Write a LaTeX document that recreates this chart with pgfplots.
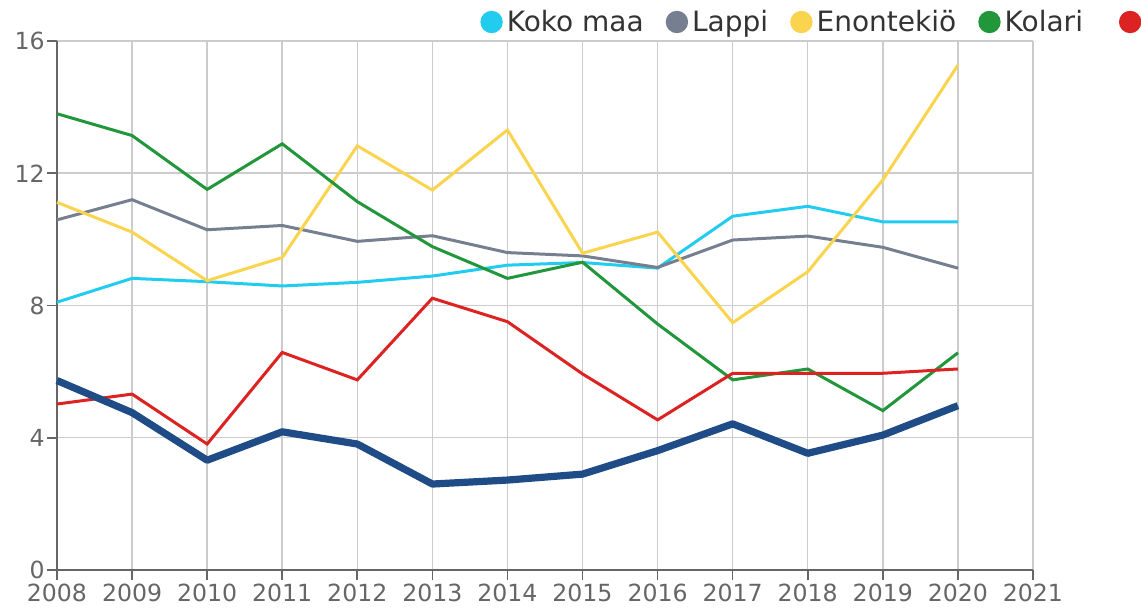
\documentclass[border=0pt]{standalone}
\usepackage{fontspec}
\setmainfont{DejaVu Sans}
\usepackage{pgfplots}
\usepackage{pgfplotstable}
\pgfplotsset{compat=1.18}
\definecolor{kokomaa}{HTML}{22CCEE}
\definecolor{lappi}{HTML}{767F8F}
\definecolor{enontekio}{HTML}{FAD44E}
\definecolor{kolari}{HTML}{22963A}
\definecolor{punainen}{HTML}{DD2222}
\definecolor{tumma}{HTML}{1F4B87}
\definecolor{gridc}{HTML}{CCCCCC}
\definecolor{axisc}{HTML}{666666}

\pgfplotstableread{
vuosi koko lappi enon kolari pun tumma
2008 8.10 10.59 11.12 13.80 5.02 5.73
2009 8.82 11.20 10.22 13.14 5.32 4.76
2010 8.72 10.29 8.75 11.51 3.81 3.32
2011 8.59 10.42 9.45 12.89 6.58 4.18
2012 8.70 9.94 12.83 11.14 5.75 3.81
2013 8.89 10.11 11.49 9.78 8.22 2.60
2014 9.22 9.60 13.31 8.82 7.51 2.72
2015 9.30 9.50 9.58 9.31 5.93 2.90
2016 9.13 9.15 10.22 7.44 4.54 3.61
2017 10.70 9.98 7.48 5.75 5.95 4.42
2018 11.00 10.10 9.02 6.08 5.95 3.53
2019 10.53 9.76 11.80 4.82 5.95 4.08
2020 10.53 9.13 15.27 6.57 6.08 4.97
}\datatable

\begin{document}
\begin{tikzpicture}
\begin{axis}[
  scale only axis, width=488pt, height=264.5pt,
  xmin=2008, xmax=2021, ymin=0, ymax=16,
  xtick={2008,...,2021}, ytick={0,4,8,12,16},
  axis lines=left, axis line style={axisc, line width=0.8pt, -},
  tick align=outside, major tick length=5pt,
  tick style={axisc, line width=0.8pt},
  grid=major, grid style={gridc, line width=0.75pt},
  ticklabel style={font=\fontsize{11.8}{14}\selectfont, text=axisc},
  /pgf/number format/assume math mode=true,
  /pgf/number format/1000 sep={},
  xticklabel style={inner sep=1pt, yshift=-1pt},
  yticklabel style={inner sep=1pt},
  clip=false,
  legend columns=-1,
  legend image code/.code={\fill[#1,draw=none] (0pt,0pt) circle (5.6pt);},
  legend style={draw=none, fill=none, at={(0.4334,1)}, anchor=west, yshift=9.5pt,
    font=\fontsize{14}{16}\selectfont, text=black!80,
    /tikz/every odd column/.append style={column sep=0pt},
    /tikz/every even column/.append style={column sep=9pt},
    inner sep=0pt},
]
\addplot[kokomaa, line width=1.5pt] table[x=vuosi, y=koko] {\datatable};
\addlegendentry{Koko maa}
\addplot[lappi, line width=1.5pt] table[x=vuosi, y=lappi] {\datatable};
\addlegendentry{Lappi}
\addplot[enontekio, line width=1.5pt] table[x=vuosi, y=enon] {\datatable};
\addlegendentry{Enontekiö}
\addplot[kolari, line width=1.5pt] table[x=vuosi, y=kolari] {\datatable};
\addlegendentry{Kolari\rule{7pt}{0pt}}
\addplot[punainen, line width=1.5pt] table[x=vuosi, y=pun] {\datatable};
\addlegendentry{\phantom{X}}
\addplot[tumma, line width=3.6pt, line join=round] table[x=vuosi, y=tumma] {\datatable};
\end{axis}
\pgfresetboundingbox
\path ([xshift=-28.5pt,yshift=-20pt]current axis.south west) rectangle ([xshift=54pt,yshift=20.5pt]current axis.north east);
\end{tikzpicture}
\end{document}
